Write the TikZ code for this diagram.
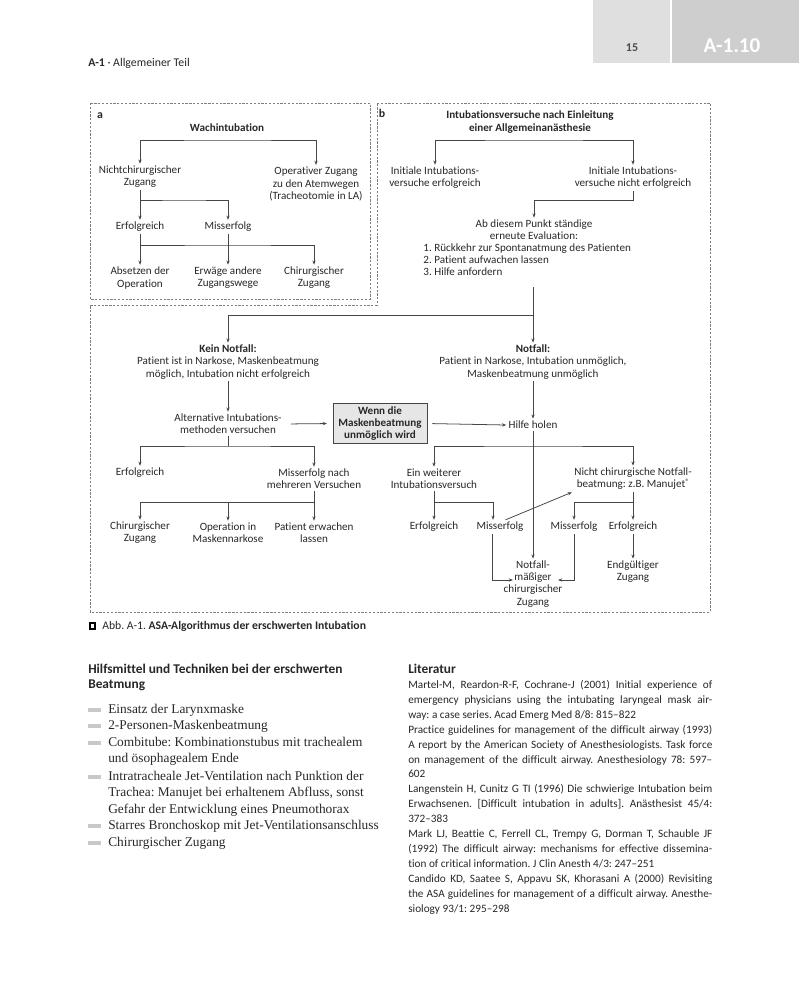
\documentclass[tikz,border=0pt]{standalone}
\usepackage{fontspec}
\setmainfont{Liberation Serif}
\setsansfont{Carlito}[Ligatures={NoCommon}]
\frenchspacing
\usetikzlibrary{arrows.meta}
\definecolor{Ink}{RGB}{40, 40, 40}
\definecolor{LineGray}{RGB}{70, 70, 70}
\definecolor{FrameGray}{RGB}{125, 125, 125}
\definecolor{BoxFill}{RGB}{230, 230, 230}
\definecolor{TabLight}{RGB}{223, 223, 223}
\definecolor{TabDark}{RGB}{206, 206, 206}
\definecolor{BarGray}{RGB}{200, 200, 200}

\begin{document}
\begin{tikzpicture}[x=0.025cm, y=-0.025cm, >={Stealth[length=3pt, width=2.3pt]},
    txt/.style={font=\sffamily\fontsize{7.9}{8.6}\selectfont, align=center, inner sep=1.5pt, text=Ink},
    ttl/.style={txt, font=\sffamily\bfseries\fontsize{7.9}{8.6}\selectfont},
    keybox/.style={ttl, draw=LineGray, fill=BoxFill, line width=0.6pt, minimum width=2.35cm, minimum height=1.02cm},
    conn/.style={draw=LineGray, line width=0.55pt},
    frame/.style={draw=FrameGray, line width=0.5pt, dash pattern=on 1.6pt off 1.1pt},
    item/.style={anchor=north west, inner sep=0pt, align=left, text=Ink, font=\rmfamily\fontsize{9.5}{11.8}\selectfont},
    head/.style={anchor=north west, inner sep=0pt, align=left, text=Ink, font=\sffamily\bfseries\fontsize{9.5}{10.6}\selectfont}]
    % Page: 1 unit = 1 pixel of the scan, y pointing down
    \useasboundingbox (0,0) rectangle (799,1000);
    \fill[white] (0,0) rectangle (799,1000);

    % Running head and thumb tab
    \fill[TabLight] (593,0) rectangle (670,63);
    \fill[TabDark] (672,0) rectangle (799,63);
    \node (pgnum) [font=\sffamily\bfseries\fontsize{8.5}{10}\selectfont, text=black!70] at (632,48) {15};
    \node (chap) [font=\sffamily\bfseries\fontsize{15}{16}\selectfont, text=white] at (732,46) {A-1.10};
    \node (hdr) [anchor=base west, inner sep=0pt, text=Ink, font=\sffamily\fontsize{8.4}{9}\selectfont] at (88,66) {\textbf{A-1} · Allgemeiner Teil};

    % Dashed frames
    \draw[frame] (90,103) rectangle (370,299);
    \draw[frame] (377,103) -- (710,103) -- (710,612) -- (90,612) -- (90,305) -- (377,305) -- cycle;

    % Part a: Wachintubation
    \node (lbla) [ttl, font=\sffamily\bfseries\fontsize{8.4}{9}\selectfont] at (100,116) {a};
    \node (wach) [ttl] at (227,128) {Wachintubation};
    \node (nchir) [txt] at (140,177) {Nichtchirurgischer\\Zugang};
    \node (opzug) [txt] at (316,184) {Operativer Zugang\\zu den Atemwegen\\(Tracheotomie in LA)};
    \node (aerf) [txt] at (140,227) {Erfolgreich};
    \node (amis) [txt] at (228,227) {Misserfolg};
    \node (abs) [txt] at (140,278) {Absetzen der\\Operation};
    \node (erw) [txt] at (228,278) {Erwäge andere\\Zugangswege};
    \node (achir) [txt] at (314,278) {Chirurgischer\\Zugang};
    \coordinate (wj) at (227,140);
    \coordinate (nj) at (184,200);
    \coordinate (ej) at (228,245);
    \draw[conn, <->] (nchir.north) |- (wj) -| (opzug.north);
    \draw[conn] (nchir.south) -- (nchir.south |- nj);
    \draw[conn, <->] (aerf.north) |- (nj) -| (amis.north);
    \draw[conn] (aerf.south) -- (aerf.south |- ej);
    \draw[conn, <->] (abs.north) |- (ej) -| (achir.north);
    \draw[conn, ->] (amis.south) -- (erw.north);

    % Part b: Intubation nach Einleitung
    \node (lblb) [ttl, font=\sffamily\bfseries\fontsize{8.4}{9}\selectfont] at (382,113) {b};
    \node (intv) [ttl] at (530,122) {Intubationsversuche nach Einleitung\\einer Allgemeinanästhesie};
    \node (iok) [txt] at (435,178) {Initiale Intubations-\\versuche erfolgreich};
    \node (inok) [txt] at (633,178) {Initiale Intubations-\\versuche nicht erfolgreich};
    \node (eval) [txt] at (534,230) {Ab diesem Punkt ständige\\erneute Evaluation:};
    \node (evlist) [txt, align=left, anchor=west] at (421,259.5) {1. Rückkehr zur Spontanatmung des Patienten\\2. Patient aufwachen lassen\\3. Hilfe anfordern};
    \coordinate (bj) at (534,140);
    \coordinate (evj) at (534,200);
    \draw[conn, <->] (iok.north) |- (bj) -| (inok.north);
    \draw[conn, ->] (inok.south) |- (evj) -- (eval.north);

    % Kein Notfall / Notfall
    \node (kein) [txt] at (228,362) {\textbf{Kein Notfall:}\\Patient ist in Narkose, Maskenbeatmung\\möglich, Intubation nicht erfolgreich};
    \node (notf) [txt] at (533,362) {\textbf{Notfall:}\\Patient in Narkose, Intubation unmöglich,\\Maskenbeatmung unmöglich};
    \coordinate (ltop) at (533,287);
    \coordinate (kj) at (533,315);
    \draw[conn, ->] (ltop) -- (notf.north);
    \draw[conn, ->] (kj) -| (kein.north);

    \node (altm) [txt] at (228,424) {Alternative Intubations-\\methoden versuchen};
    \node (wenn) [keybox] at (380,423.5) {Wenn die\\Maskenbeatmung\\unmöglich wird};
    \node (hilfe) [txt] at (533,425) {Hilfe holen};
    \draw[conn, ->] (kein.south) -- (altm.north);
    \draw[conn, ->] (notf.south) -- (hilfe.north);
    \draw[conn, ->, shorten <=5pt, shorten >=4pt] (altm.east) -- (wenn.west);
    \draw[conn, ->, shorten <=3.5pt] (wenn.east) -- (hilfe.west);

    % Left branch
    \node (kerf) [txt] at (140,473) {Erfolgreich};
    \node (kmis) [txt] at (314,479) {Misserfolg nach\\mehreren Versuchen};
    \node (kchir) [txt] at (140,533) {Chirurgischer\\Zugang};
    \node (kop) [txt] at (228,533) {Operation in\\Maskennarkose};
    \node (kerw) [txt] at (314,533) {Patient erwachen\\lassen};
    \coordinate (aj) at (228,446);
    \coordinate (mj) at (314,502);
    \draw[conn] (altm.south) -- (aj);
    \draw[conn, <->] (kerf.north) |- (aj) -| (kmis.north);
    \draw[conn] (kmis.south) -- (mj);
    \draw[conn, <->] (kchir.north) |- (mj) -- (kerw.north);
    \draw[conn, ->] (kop.north |- mj) -- (kop.north);

    % Right branch
    \node (weit) [txt] at (434,479) {Ein weiterer\\Intubationsversuch};
    \node (nchb) [txt] at (633,479) {Nicht chirurgische Notfall-\\beatmung: z.B. Manujet\raisebox{2.6pt}{\fontsize{5.5}{6}\selectfont ®}};
    \node (werf) [txt] at (434,527) {Erfolgreich};
    \node (wmis) [txt] at (500,527) {Misserfolg};
    \node (nmis) [txt] at (574,527) {Misserfolg};
    \node (nerf) [txt] at (633,527) {Erfolgreich};
    \node (nfz) [txt] at (533,584) {Notfall-\\mäßiger\\chirurgischer\\Zugang};
    \node (endg) [txt] at (633,572) {Endgültiger\\Zugang};
    \coordinate (hj) at (533,446);
    \coordinate (wbj) at (493,502);
    \coordinate (rbj) at (633,502);
    \coordinate (wl) at (492,580);
    \coordinate (nfzl) at (513,580);
    \coordinate (nl) at (574,580);
    \coordinate (nfzr) at (558,580);
    \draw[conn, <->] (weit.north) |- (hj) -| (nchb.north);
    \draw[conn, ->] (hilfe.south) -- (nfz.north);
    \draw[conn, ->] (weit.south) -- (werf.north);
    \draw[conn, ->] (weit.south |- wbj) -- (wbj) -- (wbj |- wmis.north);
    \draw[conn, ->] ([xshift=4pt]wmis.north) -- (nchb.south west);
    \draw[conn, ->] (nchb.south) -- (nerf.north);
    \draw[conn, ->] (rbj) -| (nmis.north);
    \draw[conn, ->] (wl |- wmis.south) -- (wl) -- (nfzl);
    \draw[conn, ->] (nl |- nmis.south) -- (nl) -- (nfzr);
    \draw[conn, ->] (nerf.south) -- (endg.north);

    % Caption
    \node (capsq) [draw=black, fill=white, line width=1.6pt, minimum size=0.14cm, inner sep=0pt] at (92.5,626) {};
    \node (cap) [anchor=west, inner sep=0pt, text=Ink, font=\sffamily\fontsize{8.3}{9}\selectfont] at (102,626) {Abb. A-1. \textbf{ASA-Algorithmus der erschwerten Intubation}};

    % Hilfsmittel list
    \node (hmhead) [head] at (88,664) {Hilfsmittel und Techniken bei der erschwerten\\Beatmung};
    \foreach \y in {710, 726, 742.7, 776.7, 826, 842.7} {
        \fill[BarGray] (88,\y-1.8) rectangle (101,\y+1.8);
    }
    \node (hm1) [item] at (108,704) {Einsatz der Larynxmaske};
    \node (hm2) [item] at (108,720) {2-Personen-Maskenbeatmung};
    \node (hm3) [item] at (108,736.7) {Combitube: Kombinationstubus mit trachealem\\und ösophagealem Ende};
    \node (hm4) [item] at (108,770.7) {Intratracheale Jet-Ventilation nach Punktion der\\Trachea: Manujet bei erhaltenem Abfluss, sonst\\Gefahr der Entwicklung eines Pneumothorax};
    \node (hm5) [item] at (108,820) {Starres Bronchoskop mit Jet-Ventilationsanschluss};
    \node (hm6) [item] at (108,836.7) {Chirurgischer Zugang};

    % Literatur
    \node (lithead) [head] at (408,664) {Literatur};
    \node (refs) [anchor=north west, inner sep=0pt, text width=7.6cm, align=justify, text=Ink, font=\sffamily\fontsize{8}{10.6}\selectfont] at (408,680) {%
        Martel-M, Reardon-R-F, Cochrane-J (2001) Initial experience of\linebreak
        emergency physicians using the intubating laryngeal mask air-\linebreak
        way: a case series. Acad Emerg Med 8/8: 815--822\par
        Practice guidelines for management of the difficult airway (1993)\linebreak
        A report by the American Society of Anesthesiologists. Task force\linebreak
        on management of the difficult airway. Anesthesiology 78: 597--\linebreak
        602\par
        Langenstein H, Cunitz G TI (1996) Die schwierige Intubation beim\linebreak
        Erwachsenen. [Difficult intubation in adults]. Anästhesist 45/4:\linebreak
        372--383\par
        Mark LJ, Beattie C, Ferrell CL, Trempy G, Dorman T, Schauble JF\linebreak
        (1992) The difficult airway: mechanisms for effective dissemina-\linebreak
        tion of critical information. J Clin Anesth 4/3: 247--251\par
        Candido KD, Saatee S, Appavu SK, Khorasani A (2000) Revisiting\linebreak
        the ASA guidelines for management of a difficult airway. Anesthe-\linebreak
        siology 93/1: 295--298};
\end{tikzpicture}
\end{document}
